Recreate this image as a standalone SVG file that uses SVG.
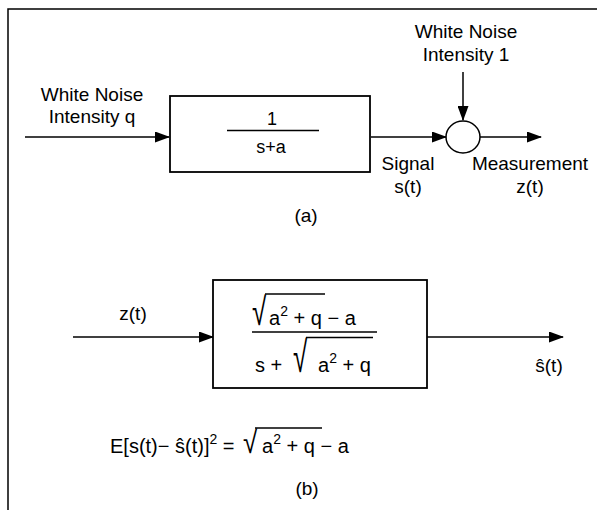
<svg xmlns="http://www.w3.org/2000/svg" width="597" height="510" viewBox="0 0 597 510">
<defs>
<marker id="ah" markerWidth="15" markerHeight="11" refX="14" refY="5.5" orient="auto" markerUnits="userSpaceOnUse">
<path d="M0,0 L15,5.5 L0,11 Z" fill="#000"/>
</marker>
<style>
text{font-family:"Liberation Sans",Arial,sans-serif;font-size:19px;fill:#000}
.c{text-anchor:middle}
.f{font-size:18px}
.g{font-size:20px}
.rad{font-size:26px}
.ln{stroke:#000;stroke-width:1.5;fill:none}
.ol{stroke:#000;stroke-width:1.3}
.box{stroke:#000;stroke-width:1.8;fill:#fff}
.sup{font-size:14px}
</style>
</defs>
<rect width="597" height="510" fill="#fff"/>
<g id="frame">
<path d="M597,9 H8 V510" class="ln" stroke-width="2"/>
</g>
<g id="connectors">
<line x1="25" y1="137" x2="169" y2="137" class="ln" marker-end="url(#ah)"/>
<line x1="371" y1="137" x2="446" y2="137" class="ln" marker-end="url(#ah)"/>
<line x1="463" y1="72" x2="463" y2="120" class="ln" marker-end="url(#ah)"/>
<line x1="480" y1="137" x2="541" y2="137" class="ln" marker-end="url(#ah)"/>
<line x1="73" y1="337" x2="213" y2="337" class="ln" marker-end="url(#ah)"/>
<line x1="427" y1="337" x2="563" y2="337" class="ln" marker-end="url(#ah)"/>
</g>
<g id="input-a">
<text x="92" y="101" class="c">White Noise</text>
<text x="92" y="123" class="c">Intensity q</text>
</g>
<g id="plant">
<rect x="170" y="96" width="200" height="76" class="box"/>
<text x="272" y="125" class="c f">1</text>
<line x1="227" y1="130.5" x2="319" y2="130.5" class="ol"/>
<text x="271" y="153" class="c f">s+a</text>
</g>
<g id="noise-1">
<text x="466" y="38" class="c">White Noise</text>
<text x="466" y="61" class="c">Intensity 1</text>
</g>
<g id="sum">
<ellipse cx="463" cy="137" rx="17" ry="16" class="ln"/>
</g>
<g id="signal-label">
<text x="408" y="170" class="c">Signal</text>
<text x="408" y="193" class="c">s(t)</text>
</g>
<g id="measurement-label">
<text x="530" y="170" class="c">Measurement</text>
<text x="530" y="193" class="c">z(t)</text>
</g>
<text x="306" y="222" class="c">(a)</text>
<g id="z-label">
<text x="133" y="320" class="c">z(t)</text>
</g>
<g id="filter">
<rect x="213" y="280" width="214" height="108" class="box"/>
<text class="rad" transform="translate(252,325) scale(1,1.49)">√</text>
<line x1="265" y1="294" x2="325" y2="294" class="ol"/>
<text x="269" y="325" class="g">a<tspan class="sup" dy="-9">2</tspan><tspan dy="9"> + q − a</tspan></text>
<line x1="252" y1="332" x2="377" y2="332" class="ol"/>
<text x="255" y="372" class="g">s + </text>
<text class="rad" transform="translate(293,372) scale(1,1.68)">√</text>
<line x1="306" y1="337.5" x2="373" y2="337.5" class="ol"/>
<text x="318" y="372" class="g">a<tspan class="sup" dy="-9">2</tspan><tspan dy="9"> + q</tspan></text>
</g>
<g id="estimate-label">
<text x="549" y="372" class="c">ŝ(t)</text>
</g>
<g id="error-eq">
<text x="110" y="453" class="g">E[s(t)− ŝ(t)]<tspan class="sup" dy="-9">2</tspan><tspan dy="9"> =</tspan></text>
<text class="rad" transform="translate(243,453) scale(1,1.2)">√</text>
<line x1="255" y1="428" x2="322" y2="428" class="ol"/>
<text x="262" y="453" class="g">a<tspan class="sup" dy="-9">2</tspan><tspan dy="9"> + q − a</tspan></text>
</g>
<text x="307" y="495" class="c">(b)</text>
</svg>
